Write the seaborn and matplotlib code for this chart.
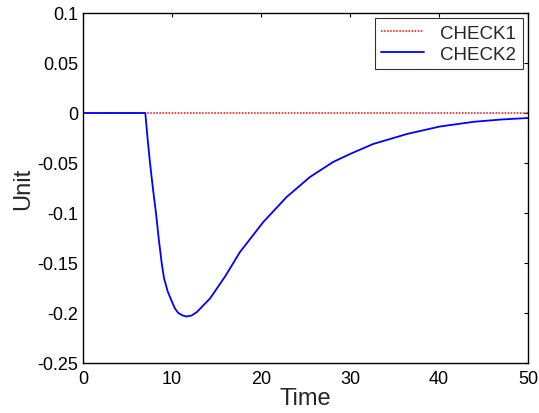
import matplotlib
matplotlib.use("Agg")
import matplotlib.pyplot as plt
import seaborn as sns
import pandas as pd

time = [0, 2, 4, 6, 7.0, 7.25, 7.53, 7.85, 8.2, 8.5, 8.84, 9.1, 9.5, 9.96, 10.3, 10.7, 11.2, 11.65, 12.2, 12.8,
        14.27, 16.0, 17.64, 20.26, 22.88, 25.5, 28.1, 30.0, 32.6, 36.4, 40.1, 43.9, 47.0, 50.0]
check1 = [0.0] * len(time)
check2 = [0, 0, 0, 0, 0, -0.025, -0.05, -0.075, -0.1, -0.125, -0.15, -0.165, -0.178, -0.188, -0.195, -0.2, -0.2025, -0.2035, -0.2025, -0.199,
          -0.1855, -0.163, -0.139, -0.109, -0.084, -0.064, -0.049, -0.041, -0.031, -0.021, -0.0135, -0.0088, -0.0065, -0.005]

sns.set_style("white")
plt.rcParams['font.family'] = ['Liberation Sans', 'DejaVu Sans']

fig = plt.figure(figsize=(5.39, 4.14), dpi=100)
ax = fig.add_axes([83/539, 50/414, 445/539, 350/414])

df = pd.DataFrame({"Time": time, "CHECK1": check1, "CHECK2": check2})
sns.lineplot(data=df, x="Time", y="CHECK1", ax=ax, color="#ff0000", linestyle=(0, (1.0, 1.0)), linewidth=1.1,
             label="CHECK1", estimator=None, sort=False)
sns.lineplot(data=df, x="Time", y="CHECK2", ax=ax, color="blue", linewidth=1.3,
             label="CHECK2", estimator=None, sort=False)

ax.set_xlim(0, 50)
ax.set_ylim(-0.25, 0.1)
ax.set_xticks([0, 10, 20, 30, 40, 50])
ax.set_xticklabels(["0", "10", "20", "30", "40", "50"])
ax.set_yticks([-0.25, -0.2, -0.15, -0.1, -0.05, 0, 0.05, 0.1])
ax.set_yticklabels(["-0.25", "-0.2", "-0.15", "-0.1", "-0.05", "0", "0.05", "0.1"])
ax.tick_params(direction="in", length=3, width=0.8, top=True, right=True, labelsize=13, colors="black")
ax.tick_params(axis="x", pad=5)
ax.tick_params(axis="y", pad=3.5)
for s in ax.spines.values():
    s.set_color("black")
    s.set_linewidth(1.0)
ax.set_xlabel("Time", fontsize=17, labelpad=0)
ax.set_ylabel("Unit", fontsize=17, labelpad=2)

leg = ax.legend(loc="upper right", fontsize=13.5, frameon=True, fancybox=False, edgecolor="black",
                borderaxespad=0.28, handlelength=2.3, borderpad=0.35, labelspacing=0.2, handletextpad=0.85)
leg.get_frame().set_linewidth(0.8)

fig.savefig("out.png", dpi=100)
